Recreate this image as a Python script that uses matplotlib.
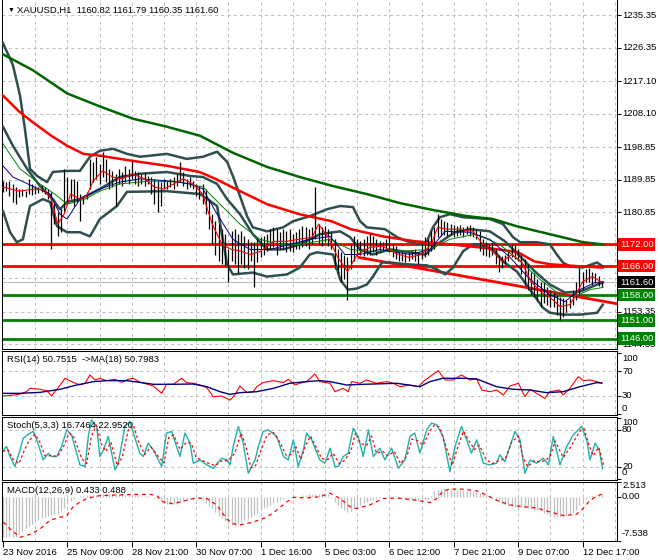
import matplotlib.pyplot as plt

plt.rcParams['font.family'] = ['Liberation Sans', 'DejaVu Sans']
plt.rcParams['font.size'] = 6.8

# ---- price bars (H1), bar index 0..186 ----
bar_high = [
    1189.5, 1189.2, 1189.5, 1188.7, 1187.9, 1187.3, 1187.3, 1186.7, 1190.1, 1188.7,
    1188.1, 1187.9, 1188.4, 1187.9, 1187.3, 1186.5, 1183.1, 1180.9, 1181.7, 1192.8,
    1190.6, 1190.1, 1190.1, 1189.5, 1185.9, 1185.4, 1186.5, 1195.6, 1194.8, 1196.2,
    1194.2, 1197.6, 1195.6, 1192.8, 1192.3, 1191.5, 1192.8, 1192.0, 1193.7, 1192.8,
    1195.1, 1192.3, 1192.0, 1191.5, 1192.0, 1190.9, 1190.6, 1190.1, 1189.5, 1189.2,
    1190.1, 1189.5, 1190.1, 1190.6, 1191.5, 1194.8, 1192.0, 1190.1, 1190.6, 1189.5,
    1188.7, 1188.1, 1188.7, 1187.3, 1184.5, 1180.35, 1178.4, 1177.6, 1176.2, 1174.8,
    1170.6, 1175.6, 1176.2, 1174.8, 1175.6, 1174.2, 1173.4, 1172.6, 1172.6, 1173.4,
    1174.0, 1174.2, 1174.8, 1176.2, 1176.7, 1176.2, 1175.35, 1176.2, 1175.6, 1176.2,
    1174.8, 1175.35, 1176.2, 1177.0, 1176.7, 1176.2, 1176.7, 1187.9, 1177.6, 1176.7,
    1177.0, 1176.2, 1175.6, 1173.4, 1170.6, 1169.8, 1169.2, 1168.4, 1172.0, 1174.2,
    1173.4, 1172.85, 1173.4, 1174.2, 1174.8, 1174.2, 1173.4, 1172.85, 1172.6, 1173.4,
    1174.8, 1172.0, 1171.5, 1170.1, 1170.1, 1169.5, 1169.8, 1170.1, 1170.6, 1169.8,
    1172.0, 1174.0, 1173.4, 1175.6, 1176.7, 1180.35, 1179.0, 1178.4, 1178.1, 1177.6,
    1177.3, 1177.0, 1177.3, 1176.7, 1177.0, 1177.3, 1176.7, 1176.2, 1175.6, 1173.4,
    1172.6, 1172.0, 1172.3, 1170.6, 1169.2, 1168.7, 1169.2, 1170.1, 1172.0, 1172.0,
    1170.6, 1169.2, 1167.85, 1166.5, 1164.5, 1164.2, 1162.3, 1161.7, 1161.5, 1160.1,
    1159.5, 1158.7, 1158.1, 1157.6, 1157.3, 1156.7, 1157.3, 1159.5, 1161.7, 1165.6,
    1164.5, 1165.1, 1165.6, 1164.5, 1164.0, 1163.4, 1161.79]
bar_low = [
    1186.5, 1186.7, 1185.4, 1183.7, 1183.1, 1185.1, 1185.4, 1185.1, 1185.9, 1185.6,
    1185.9, 1186.2, 1186.5, 1185.9, 1184.5, 1170.6, 1177.6, 1174.2, 1175.35, 1180.9,
    1183.1, 1184.5, 1182.6, 1183.7, 1178.4, 1183.1, 1184.5, 1187.3, 1189.2, 1190.1,
    1188.7, 1190.6, 1189.2, 1187.3, 1187.9, 1182.6, 1188.7, 1188.1, 1189.2, 1188.7,
    1190.1, 1188.7, 1188.1, 1188.7, 1188.1, 1188.7, 1185.9, 1183.1, 1180.9, 1182.6,
    1187.3, 1187.3, 1187.9, 1187.3, 1188.1, 1189.2, 1188.1, 1187.3, 1187.9, 1187.3,
    1185.4, 1184.5, 1183.1, 1180.35, 1176.2, 1172.0, 1169.2, 1167.3, 1166.5, 1165.9,
    1161.5, 1167.3, 1166.5, 1164.2, 1166.5, 1165.6, 1165.1, 1167.3, 1160.35, 1167.0,
    1168.4, 1169.2, 1170.1, 1170.6, 1171.2, 1169.2, 1170.6, 1170.6, 1169.8, 1170.1,
    1169.8, 1170.6, 1170.6, 1171.2, 1171.5, 1170.6, 1172.0, 1173.4, 1172.0, 1171.5,
    1172.6, 1171.5, 1170.6, 1165.1, 1164.2, 1161.5, 1162.3, 1156.7, 1165.1, 1167.3,
    1168.7, 1169.2, 1168.7, 1169.2, 1169.2, 1169.8, 1169.2, 1169.8, 1170.1, 1170.6,
    1169.8, 1168.4, 1167.85, 1167.3, 1167.3, 1167.0, 1167.3, 1167.85, 1167.3, 1166.5,
    1167.85, 1168.4, 1169.2, 1170.1, 1170.6, 1174.0, 1174.2, 1174.5, 1174.2, 1174.5,
    1174.0, 1174.2, 1174.5, 1174.0, 1174.8, 1174.2, 1174.0, 1173.4, 1170.1, 1169.2,
    1168.7, 1168.4, 1169.0, 1166.5, 1164.5, 1165.6, 1166.5, 1167.3, 1168.4, 1167.85,
    1167.3, 1163.7, 1160.9, 1159.5, 1158.1, 1157.6, 1156.7, 1154.8, 1155.9, 1155.35,
    1154.8, 1154.8, 1152.6, 1151.2, 1152.0, 1153.4, 1154.5, 1155.35, 1156.7, 1158.1,
    1159.5, 1161.5, 1161.7, 1160.9, 1161.2, 1160.6, 1160.35]

# ---- moving averages / bands, read at anchor bars ----
ma200_at = [0, 9.3, 19.9, 30.1, 40.4, 50.9, 61.2, 71.4, 82, 92.2, 102.5, 113, 123.3,
            133.5, 144.1, 152.2, 159.6, 169.9, 180.1, 186.3]
ma200 = [1224.5, 1220.1, 1213.7, 1210.1, 1206.7, 1204.5, 1202.0, 1197.3, 1193.4, 1190.6,
         1188.1, 1185.9, 1183.4, 1181.5, 1179.8, 1179.0, 1177.0, 1174.8, 1172.6, 1172.0]
ma100_at = [0, 5, 9, 15, 20, 25, 30, 40, 51, 61, 66, 71, 82, 92, 102, 108, 118, 128,
            139, 154, 160, 165, 170, 180, 186.3]
ma100 = [1213.1, 1208.7, 1205.9, 1202.0, 1199.2, 1197.0, 1196.5, 1195.1, 1193.7, 1192.0,
         1190.1, 1187.85, 1183.1, 1180.35, 1178.4, 1176.2, 1174.2, 1172.85, 1172.0, 1170.6,
         1169.8, 1167.3, 1166.5, 1165.9, 1165.6]

bb_up_at = [0, 3.1, 5.3, 6.8, 8.4, 10.6, 13.7, 15.5, 19.9, 23.9, 27, 30.1, 34.2, 38.5,
            42.5, 50.9, 57.1, 62.1, 66.5, 69.6, 71.4, 73.6, 75.8, 77.6, 82, 87, 90.1,
            95.3, 100.6, 104.7, 108.7, 110.9, 113, 118.6, 122.4, 125.5, 129.5, 131.7,
            133.5, 135.7, 138.8, 142.9, 151.2, 155.3, 158.4, 160.6, 165.8, 169.9, 172,
            173.9, 176.1, 180.1, 184.5, 186.3]
bb_up = [1227.6, 1221.5, 1213.1, 1204.0, 1192.85, 1190.9, 1189.2, 1192.0, 1192.3, 1192.3,
         1196.2, 1197.85, 1198.4, 1197.0, 1196.2, 1197.0, 1195.6, 1196.2, 1197.6, 1194.8,
         1190.9, 1185.35, 1179.8, 1176.7, 1175.6, 1176.7, 1178.4, 1179.8, 1181.7, 1182.6,
         1182.3, 1178.4, 1176.7, 1176.2, 1174.0, 1172.85, 1172.0, 1172.85, 1176.7, 1179.5,
         1180.35, 1179.5, 1179.0, 1177.6, 1174.0, 1172.6, 1172.6, 1172.0, 1169.2, 1167.0,
         1165.9, 1165.6, 1167.0, 1165.9]
bb_mid_at = [0, 3.1, 7.5, 11.5, 15.5, 17.7, 19.9, 23.9, 30.1, 36.3, 42.5, 50.9, 58.1,
             62.1, 66.5, 69.6, 73.6, 77.6, 82, 87, 92.2, 98.4, 104.7, 107.8, 110.9, 114.9,
             120.2, 126.4, 131.1, 135.7, 140.4, 145, 151.2, 155.9, 160.6, 165.2, 169.9,
             174.5, 179.2, 182.3, 186.3]
bb_mid = [1204.5, 1199.2, 1192.85, 1188.1, 1184.5, 1181.7, 1183.7, 1184.5, 1187.3, 1190.6,
          1191.5, 1192.0, 1190.9, 1190.6, 1188.7, 1184.5, 1180.35, 1174.8, 1170.6, 1170.6,
          1172.0, 1174.8, 1175.6, 1174.0, 1170.6, 1169.2, 1170.6, 1169.8, 1169.2, 1172.6,
          1175.35, 1176.2, 1175.6, 1172.85, 1168.7, 1164.5, 1160.9, 1158.7, 1158.95, 1160.1,
          1161.5]
bb_low_at = [0, 2.2, 4.3, 6.2, 7.5, 8.4, 12.4, 14.6, 16.8, 19.9, 23.9, 27, 30.1, 35.4,
             38.5, 50.9, 61.2, 66.5, 68, 69.6, 71.4, 77.6, 82, 88.2, 92.2, 95.3, 97.5,
             102.5, 104.7, 107.1, 109.9, 113, 114.9, 117.7, 120.2, 125.5, 131.7, 134.8,
             137.3, 139.8, 142.9, 146, 148.1, 152.2, 155.3, 159.6, 163.7, 167.7, 169.9,
             173.9, 179.2, 184.5, 186.3]
bb_low = [1181.2, 1175.35, 1172.6, 1173.4, 1179.0, 1182.6, 1184.5, 1183.7, 1177.0, 1175.35,
          1175.35, 1174.2, 1179.0, 1182.6, 1186.5, 1186.7, 1185.9, 1182.6, 1174.8, 1166.5,
          1163.7, 1164.2, 1163.1, 1163.7, 1165.6, 1169.2, 1169.8, 1169.2, 1162.3, 1159.5,
          1159.8, 1160.9, 1163.1, 1167.0, 1167.0, 1166.5, 1166.2, 1165.1, 1163.7, 1165.6,
          1170.1, 1172.0, 1172.0, 1170.6, 1167.3, 1164.5, 1159.5, 1154.5, 1153.1, 1152.6,
          1152.6, 1153.1, 1155.35]

ma_fast_at = [0, 5, 10, 13, 15, 17, 19, 21, 24, 26, 28, 31, 34, 37, 40, 44, 47, 50, 53,
              56, 59, 62, 65, 68, 71, 74, 77, 80, 84, 88, 92, 96, 98, 101, 104, 107, 110,
              114, 118, 122, 126, 130, 133, 135, 138, 142, 146, 149, 152, 155, 158, 161,
              164, 167, 170, 173, 176, 178, 180, 183, 186]
ma_fast = [1187.85, 1186.7, 1187.3, 1187.0, 1184.5, 1177.6, 1180.35, 1185.9, 1184.5, 1185.35,
           1189.5, 1192.3, 1190.6, 1190.1, 1191.5, 1190.1, 1187.85, 1187.3, 1188.7, 1190.1,
           1188.7, 1185.9, 1177.6, 1172.0, 1170.6, 1170.1, 1169.2, 1170.1, 1172.85, 1172.85,
           1173.4, 1174.0, 1177.6, 1174.0, 1168.4, 1164.5, 1169.2, 1171.2, 1171.5, 1169.5,
           1168.4, 1169.2, 1172.0, 1176.7, 1176.2, 1176.2, 1175.6, 1172.0, 1170.1, 1167.3,
           1169.2, 1167.3, 1161.7, 1158.95, 1157.3, 1154.8, 1155.35, 1158.1, 1161.7, 1163.1,
           1161.5]
ma_mid_at = [0, 3.1, 8.4, 14.6, 17.7, 19.9, 23.9, 30.1, 36.3, 42.5, 51.9, 58.1, 62.1,
             66.5, 71.4, 76.7, 82.9, 89.1, 95.3, 101.6, 106.2, 110.9, 117.1, 126.4, 132.6,
             137.3, 145, 151.2, 157.5, 163.7, 169.9, 174.5, 179.2, 183.9, 186.3]
ma_mid = [1193.7, 1190.6, 1188.4, 1185.9, 1180.35, 1179.0, 1184.5, 1187.3, 1189.2, 1190.1,
          1189.5, 1188.7, 1187.3, 1180.35, 1173.4, 1170.6, 1170.6, 1172.0, 1173.4, 1174.2,
          1169.2, 1169.2, 1170.6, 1169.2, 1170.6, 1175.6, 1175.35, 1173.4, 1168.4, 1162.3,
          1158.1, 1156.2, 1159.5, 1161.5, 1161.5]
ma_slow_at = [0, 5.3, 11.5, 16.1, 19.9, 25.5, 30.1, 36.3, 45.7, 55, 62.1, 67.4, 73.6,
              79.8, 86, 92.2, 101.6, 107.8, 114, 123.3, 132.6, 138.8, 146.6, 154.3, 160.6,
              166.8, 173, 177.6, 182.3, 186.3]
ma_slow = [1199.8, 1192.85, 1188.7, 1185.9, 1183.1, 1184.5, 1186.7, 1188.7, 1189.5, 1189.2,
           1187.85, 1183.1, 1177.6, 1173.4, 1172.0, 1172.0, 1173.4, 1170.6, 1170.1, 1170.1,
           1170.6, 1173.4, 1174.8, 1172.0, 1167.3, 1162.3, 1158.1, 1157.6, 1159.5, 1160.1]

trend_at = [110.5, 190.7]
trend = [1168.4, 1155.6]

red_levels = [1172.00, 1166.00]
green_levels = [1158.00, 1151.00, 1146.00]
last_price = 1161.60
price_ticks = [1235.35, 1226.35, 1217.10, 1208.10, 1198.85, 1189.85, 1180.85,
               1171.85, 1162.60, 1153.35, 1144.35]
price_labels = ['1235.35', '1226.35', '1217.10', '1208.10', '1198.85', '1189.85',
                '1180.85', '', '', '1153.35', '1144.35']

# ---- RSI(14) and its MA(18) ----
rsi_at = [0.1, 3.2, 5.3, 7.3, 8.4, 11.5, 13.6, 15.1, 16.1, 18.2, 19.3, 21.3, 23.9, 25.5,
          27, 28.6, 30.1, 32.2, 34.8, 36.9, 38.9, 40.5, 42.5, 44.6, 46.7, 49.3, 50.8, 52.9,
          55.5, 57, 59.1, 61.2, 63.3, 65.3, 67.9, 70.5, 72, 73.6, 75.7, 77.7, 78.8, 80.8,
          84, 87.1, 88.6, 90.7, 92.2, 94.3, 96.9, 98.4, 101.6, 103.1, 105.7, 107.2, 108.3,
          110.9, 112.9, 116, 119.2, 121.2, 123.3, 126.3, 129, 130.5, 132.6, 135.2, 137.3,
          139.9, 142.4, 145, 147.1, 148.7, 151.2, 153.3, 155.4, 157.5, 160.1, 162.1, 163.7,
          165.7, 168.3, 169.8, 172.9, 173.9, 176.1, 178.7, 180.2, 182.3, 184.4, 186]
rsi = [29.5, 31.1, 32.8, 36.6, 42.1, 40.5, 38.2, 29.5, 36.6, 50.4, 58.6, 53.1, 47.6, 50.4,
       64, 55.8, 58.6, 54.7, 57, 52, 57, 58.6, 52, 49.2, 46, 33.9, 48.7, 48.7,
       58.6, 51.5, 50.4, 47.6, 43.2, 28.4, 29.5, 22.9, 31.1, 46, 35, 36.6, 44.8, 51.5,
       54.7, 51.5, 57, 47.6, 50.4, 53.1, 65.7, 53.1, 50.4, 36.6, 42.1, 36.6, 53.1,
       50.4, 55.8, 50.4, 53.1, 50.4, 44.8, 47.6, 44.8, 53.1, 61.3, 71.1, 55.8,
       55.8, 64, 55.8, 57.5, 39.4, 36.6, 39.4, 31.1, 46, 50.4, 28.4, 40.5,
       33.9, 25.6, 36.6, 39.4, 31.1, 42.1, 61.3, 54.7, 55.8, 53.1, 50.75]
rsi_ma_at = [0, 5.3, 11.5, 17.7, 22.9, 28.1, 32.2, 38.4, 42.5, 46.7, 52.9, 59.1, 63.3,
             67.4, 70.5, 73.6, 78.8, 84, 89.1, 94.3, 98.4, 101.6, 106.7, 111.9, 122.3,
             129.5, 132.6, 136.7, 143, 147.1, 153.3, 158.5, 163.7, 168.8, 174, 179.2,
             184.4, 186]
rsi_ma = [33.9, 33.9, 35.5, 40.5, 47.6, 53.1, 54.7, 54.7, 52, 48.7, 48.7, 49.2, 44.8,
          36.6, 32.2, 35, 36.6, 42.1, 50.4, 53.1, 54.7, 53.1, 47.6, 48.7, 50.4,
          44.8, 53.1, 58.6, 58.6, 57.5, 44.8, 40.5, 39.4, 35, 36.6, 44.8, 51.5, 50.8]

# ---- Stochastic(5,3,3) ----
stoch_at = [0.1, 1.1, 2.2, 3.7, 5.3, 6.3, 8.4, 9.4, 10.5, 12.5, 14.1, 15.1, 16.7, 18.2,
            19.8, 21.3, 23.9, 25.5, 26.5, 27.5, 29.1, 30.1, 31.2, 32.7, 34.8, 35.8, 37.9,
            39.4, 40.5, 42.5, 43.6, 45.1, 46.7, 49.3, 50.8, 52.4, 53.9, 55, 56.5, 58.1,
            59.1, 61.2, 63.3, 65.3, 67.9, 69.5, 70.5, 71.5, 73.1, 74.6, 76.2, 77.2, 78.3,
            79.3, 80.8, 82.4, 85, 87.1, 88.6, 90.2, 91.7, 93.3, 94.3, 95.9, 98.4, 100,
            101.6, 103.1, 104.1, 105.7, 107.2, 108.8, 110.3, 111.9, 113.5, 115, 117.1,
            118.6, 120.7, 122.8, 124.8, 126.4, 127.9, 129.5, 131.6, 133.1, 134.7, 136.7,
            138.8, 140.4, 142.4, 144, 145.5, 147.1, 149.2, 151.2, 153.3, 154.3, 155.9,
            159, 160.6, 162.1, 163.7, 165.7, 167.8, 169.4, 170.9, 173, 175.1, 177.1,
            178.7, 179.7, 181.3, 182.3, 183.9, 185.2, 186.2]
stoch_k = [47.5, 53, 36.6, 20.2, 47.5, 66.7, 74.9, 77.6, 63.9, 31.1, 42.1, 36.6, 36.6, 53,
           80.3, 72.1, 23, 20.2, 69.4, 96.7, 85.8, 36.6, 47.5, 69.4, 14.8, 25.7, 85.8,
           94, 74.9, 42.1, 36.6, 58.5, 47.5, 20.2, 74.9, 77.6, 53, 36.6, 74.9, 58.5,
           25.7, 31.1, 23, 17.5, 33.9, 31.1, 23, 53, 85.8, 58.5, 9.3, 20.2, 31.1,
           53, 77.6, 80.3, 69.4, 36.6, 31.1, 63.9, 20.2, 47.5, 74.9, 63.9, 31.1, 25.7,
           50.3, 20.2, 20.2, 36.6, 42.1, 83, 69.4, 36.6, 80.3, 36.6, 50.3,
           31.1, 50.3, 17.5, 31.1, 69.4, 74.9, 42.1, 80.3, 91.3, 88.5, 69.4,
           12, 53, 85.8, 63.9, 42.1, 63.9, 25.7, 23, 25.7, 39.3, 28.4,
           77.6, 63.9, 9.3, 31.1, 25.7, 33.9, 23, 69.4, 23, 53, 72.1,
           80.3, 85.8, 63.9, 31.1, 58.5, 47.5, 16.75]
stoch_d_at = [0, 1.5, 3, 5, 6.5, 8, 10, 11.5, 13, 15, 17, 19, 20.5, 22, 24.5, 26, 27.5, 29,
              30.5, 32, 33.5, 35.5, 37, 39, 40.5, 42, 44, 46, 48, 50, 51.5, 53, 55, 57,
              58.5, 60, 62, 64, 66, 68, 70, 72, 74, 75.5, 77, 78.5, 80, 82, 84, 86, 88,
              89.5, 91, 92.5, 94, 95.5, 97, 99, 101, 102.5, 104.5, 106, 108, 109.5, 111,
              113, 114.5, 116, 118, 119.5, 121.5, 123.5, 125.5, 127, 129, 130.5, 132.5,
              134, 135.5, 137.5, 139.5, 141, 143, 145, 146.5, 148, 150, 152, 154, 156,
              158, 160, 161.5, 163, 165, 166.5, 168.5, 170, 171.5, 174, 176, 178, 179.5,
              180.5, 182, 183.3, 185, 186.5]
stoch_d = [45, 48, 33, 25, 45, 62, 73, 60, 38, 38, 37, 55, 75, 68, 33, 25, 70, 88,
           58, 45, 60, 22, 35, 82, 88, 62, 40, 52, 38, 26, 68, 72, 48, 60,
           58, 35, 30, 25, 22, 30, 30, 42, 75, 52, 18, 22, 45, 72, 76, 60, 38,
           40, 52, 32, 55, 70, 55, 33, 32, 42, 25, 30, 45, 75, 58,
           55, 70, 42, 45, 38, 45, 25, 38, 65, 62, 55, 78,
           88, 85, 55, 22, 48, 78, 60, 48, 55, 32, 25, 30, 33,
           60, 70, 35, 20, 30, 28, 30, 38, 62, 35, 50, 68, 80,
           82, 55, 38, 52, 22.95]

# ---- MACD(12,26,9): one histogram value per bar, signal at anchors ----
macd_hist = [
    -6.9, -6.9, -6.9, -6.9, -6.8, -6.3, -5.8, -5.4, -5.0, -4.6,
    -4.2, -3.9, -3.6, -3.4, -3.2, -3.1, -3.0, -2.9, -2.5, -2.0,
    -1.3, -0.7, -0.3, 0.0, 0.2, 0.2, 0.3, 0.3, 0.3, 0.3,
    0.4, 0.4, 0.4, 0.4, 0.4, 0.4, 0.4, 0.4, 0.3, 0.3,
    0.3, 0.3, 0.3, 0.2, 0.2, 0.1, 0.0, -0.2, -0.4, -0.7,
    -1.0, -1.2, -1.2, -1.2, -1.2, -1.1, -0.8, -0.5, -0.4, -0.3,
    -0.2, -0.3, -0.6, -1.0, -1.5, -2.0, -2.6, -3.2, -3.7, -4.2,
    -4.6, -4.8, -4.9, -4.7, -4.3, -4.0, -3.8, -3.5, -3.1, -2.7,
    -2.3, -2.0, -1.7, -1.4, -1.1, -0.9, -0.6, -0.4, -0.1, 0.0,
    0.1, 0.2, 0.2, 0.3, 0.3, 0.4, 0.4, 0.5, 0.5, 0.6,
    0.6, 0.4, -0.2, -0.9, -1.4, -1.9, -2.3, -2.6, -2.4, -2.0,
    -1.7, -1.4, -1.1, -0.9, -0.6, -0.4, -0.3, -0.2, -0.1, 0.0,
    0.0, -0.1, -0.2, -0.2, -0.3, -0.4, -0.5, -0.6, -0.6, -0.5,
    -0.5, -0.4, -0.3, 0.2, 0.9, 1.2, 1.4, 1.5, 1.4, 1.3,
    1.3, 1.2, 1.2, 1.1, 1.0, 1.0, 0.9, 0.8, 0.7, 0.5,
    0.3, 0.0, -0.3, -0.6, -0.9, -1.2, -1.4, -1.5, -1.6, -1.7,
    -1.8, -1.8, -1.9, -2.0, -2.1, -2.2, -2.3, -2.5, -2.7, -3.0,
    -3.3, -3.5, -3.5, -3.5, -3.4, -3.2, -3.0, -2.8, -2.2, -1.4,
    -0.8, -0.3, 0.2, 0.3, 0.3, 0.3, 0.433]
macd_sig_at = [0.1, 2.2, 5.3, 8.4, 11.5, 14.6, 17.7, 19.8, 21.8, 23.9, 26, 30.1, 35.3,
               40.5, 45.7, 47.7, 49.8, 52.9, 57, 60.1, 63.3, 66.4, 69.5, 71.5, 73.6,
               77.7, 81.9, 85, 88.1, 90.2, 94.3, 98.4, 101.6, 104.7, 107.8, 109.8,
               113.9, 118.1, 122.3, 128.5, 132.6, 134.7, 136.7, 138.8, 142.9, 147.1,
               150.2, 153.3, 157.5, 161.6, 165.7, 169.9, 174, 178.1, 180.2, 182.3,
               184.4, 186.2]
macd_sig = [-4.3, -5.5, -6.9, -6.4, -5.5, -4.0, -3.5, -3.2, -1.7, -0.9, -0.3, 0.2, 0.3,
            0.4, 0.4, 0.2, -0.9, -1.2, -0.6, -0.2, -0.3, -1.4, -3.8, -4.6, -4.8,
            -4.3, -3.5, -2.3, -0.9, -0.1, -0.2, 0.0, 0.6, -0.3, -1.7, -2.0,
            -1.4, -0.3, -0.2, -0.6, -1.0, -0.3, 1.0, 1.3, 1.3, 1.0,
            0.3, -0.6, -1.4, -1.7, -1.9, -2.6, -3.2, -3.0, -2.0, -0.6,
            0.1, 0.488]

date_at = [0, 20, 40, 60, 80, 100, 120, 140, 160, 180]
date_labels = ['23 Nov 2016', '25 Nov 09:00', '28 Nov 21:00', '30 Nov 07:00',
               '1 Dec 16:00', '5 Dec 03:00', '6 Dec 12:00', '7 Dec 21:00',
               '9 Dec 07:00', '12 Dec 17:00']

W, H = 660, 560
fig = plt.figure(figsize=(6.6, 5.6), dpi=100)


def panel(top, bottom):
    a = fig.add_axes([2 / W, 1 - bottom / H, 615 / W, (bottom - top) / H])
    a.set_xlim(-0.3, 190.7)
    a.set_xticks([])
    for s in a.spines.values():
        s.set_linewidth(0.75)
    for g in range(10, 191, 10):
        a.axvline(g, color='#c0c0c0', lw=0.75, ls=(0, (3, 3)), zorder=0)
    a.yaxis.tick_right()
    a.tick_params(axis='y', direction='out', length=3, width=0.7, labelright=False)
    return a


def right_label(a, val, text, dy=0):
    a.annotate(text, xy=(1, val), xycoords=a.get_yaxis_transform(), xytext=(5, dy),
               textcoords='offset pixels', va='center', ha='left', annotation_clip=False)


GRID = dict(color='#c0c0c0', lw=0.75, ls=(0, (3, 3)), zorder=0)

# ---------------- main price panel ----------------
ax = panel(0, 349)
ax.spines['top'].set_visible(False)
ax.set_ylim(1143.1, 1239.5)
ax.set_yticks(price_ticks)
for p, lab in zip(price_ticks, price_labels):
    ax.axhline(p, **GRID)
    if lab:
        right_label(ax, p, lab)

ax.axhline(last_price, color='#c0c0c0', lw=0.8, zorder=1)
for lv in red_levels:
    ax.axhline(lv, color='#ff0000', lw=2.0, zorder=2)
for lv in green_levels:
    ax.axhline(lv, color='#008000', lw=2.0, zorder=2)
ax.plot(trend_at, trend, color='#ff0000', lw=2.0, zorder=2)

bb_col = '#2f4f4f'
ax.plot(bb_up_at, bb_up, color=bb_col, lw=1.8, zorder=3)
ax.plot(bb_mid_at, bb_mid, color=bb_col, lw=1.8, zorder=3)
ax.plot(bb_low_at, bb_low, color=bb_col, lw=1.8, zorder=3)
ax.plot(ma200_at, ma200, color='#006400', lw=1.8, zorder=3)
ax.plot(ma100_at, ma100, color='#ff0000', lw=1.8, zorder=3)

ax.vlines(range(len(bar_high)), bar_low, bar_high, color='black', lw=0.9, zorder=4)

ax.plot(ma_slow_at, ma_slow, color='#008000', lw=0.7, zorder=5)
ax.plot(ma_mid_at, ma_mid, color='#00008b', lw=0.7, zorder=5)
ax.plot(ma_fast_at, ma_fast, color='#ff0000', lw=0.8, zorder=5)

for lv, col in [(1172.00, '#ff0000'), (1166.00, '#ff0000'), (1161.60, '#000000'),
                (1158.00, '#008000'), (1151.00, '#008000'), (1146.00, '#008000')]:
    ax.annotate(f'{lv:.2f}', xy=(1, lv), xycoords=ax.get_yaxis_transform(),
                xytext=(3, 0), textcoords='offset pixels', va='center', ha='left',
                color='white', zorder=10, annotation_clip=False,
                bbox=dict(boxstyle='square,pad=0.18', fc=col, ec='none'))

fig.text(8 / W, 1 - 10 / H, '\u25bc', fontsize=5, va='center', ha='left')
fig.text(17 / W, 1 - 10 / H, 'XAUUSD,H1  1160.82 1161.79 1160.35 1161.60',
         va='center', ha='left')

# ---------------- RSI ----------------
r = panel(351, 415)
r.set_ylim(-1.6, 103.3)
r.set_yticks([100, 70, 30, 0])
for lv in (70, 30):
    r.axhline(lv, **GRID)
r.plot(rsi_at, rsi, color='#ff0000', lw=0.8)
r.plot(rsi_ma_at, rsi_ma, color='#000080', lw=1.0)
right_label(r, 100, '100', -5)
right_label(r, 70, '70')
right_label(r, 30, '30')
right_label(r, 0, '0', 6)
r.text(0.008, 0.86, 'RSI(14) 50.7515  ->MA(18) 50.7983', transform=r.transAxes,
       va='center', ha='left')

# ---------------- Stochastic ----------------
s = panel(417, 480)
s.set_ylim(-1.7, 101.2)
s.set_yticks([100, 80, 20, 0])
for lv in (80, 20):
    s.axhline(lv, **GRID)
s.plot(stoch_at, stoch_k, color='#20b2aa', lw=1.0, zorder=3)
s.plot(stoch_d_at, stoch_d, color='#ff0000', lw=0.9, ls=(0, (2, 2)), zorder=4)
right_label(s, 100, '100', -5)
right_label(s, 80, '80')
right_label(s, 20, '20')
right_label(s, 0, '0', 6)
s.text(0.008, 0.873, 'Stoch(5,3,3) 16.7464 22.9520', transform=s.transAxes,
       va='center', ha='left')

# ---------------- MACD ----------------
m = panel(482, 541)
m.set_ylim(-7.538, 2.513)
m.set_yticks([2.513, 0.0, -7.538])
m.vlines(range(len(macd_hist)), 0, macd_hist, color='#c0c0c0', lw=0.9, zorder=2)
m.plot(macd_sig_at, macd_sig, color='#ff0000', lw=0.9, ls=(0, (3, 3)), zorder=3)
right_label(m, 2.513, '2.513', -4)
right_label(m, 0.0, '0.00')
right_label(m, -7.538, '-7.538', 8)
m.text(0.008, 0.864, 'MACD(12,26,9) 0.433 0.488', transform=m.transAxes,
       va='center', ha='left', zorder=5)

m.set_xticks(date_at)
m.set_xticklabels(date_labels, ha='left')
m.tick_params(axis='x', direction='out', length=4, width=0.7, pad=1)

fig.savefig('out.png', dpi=100)
